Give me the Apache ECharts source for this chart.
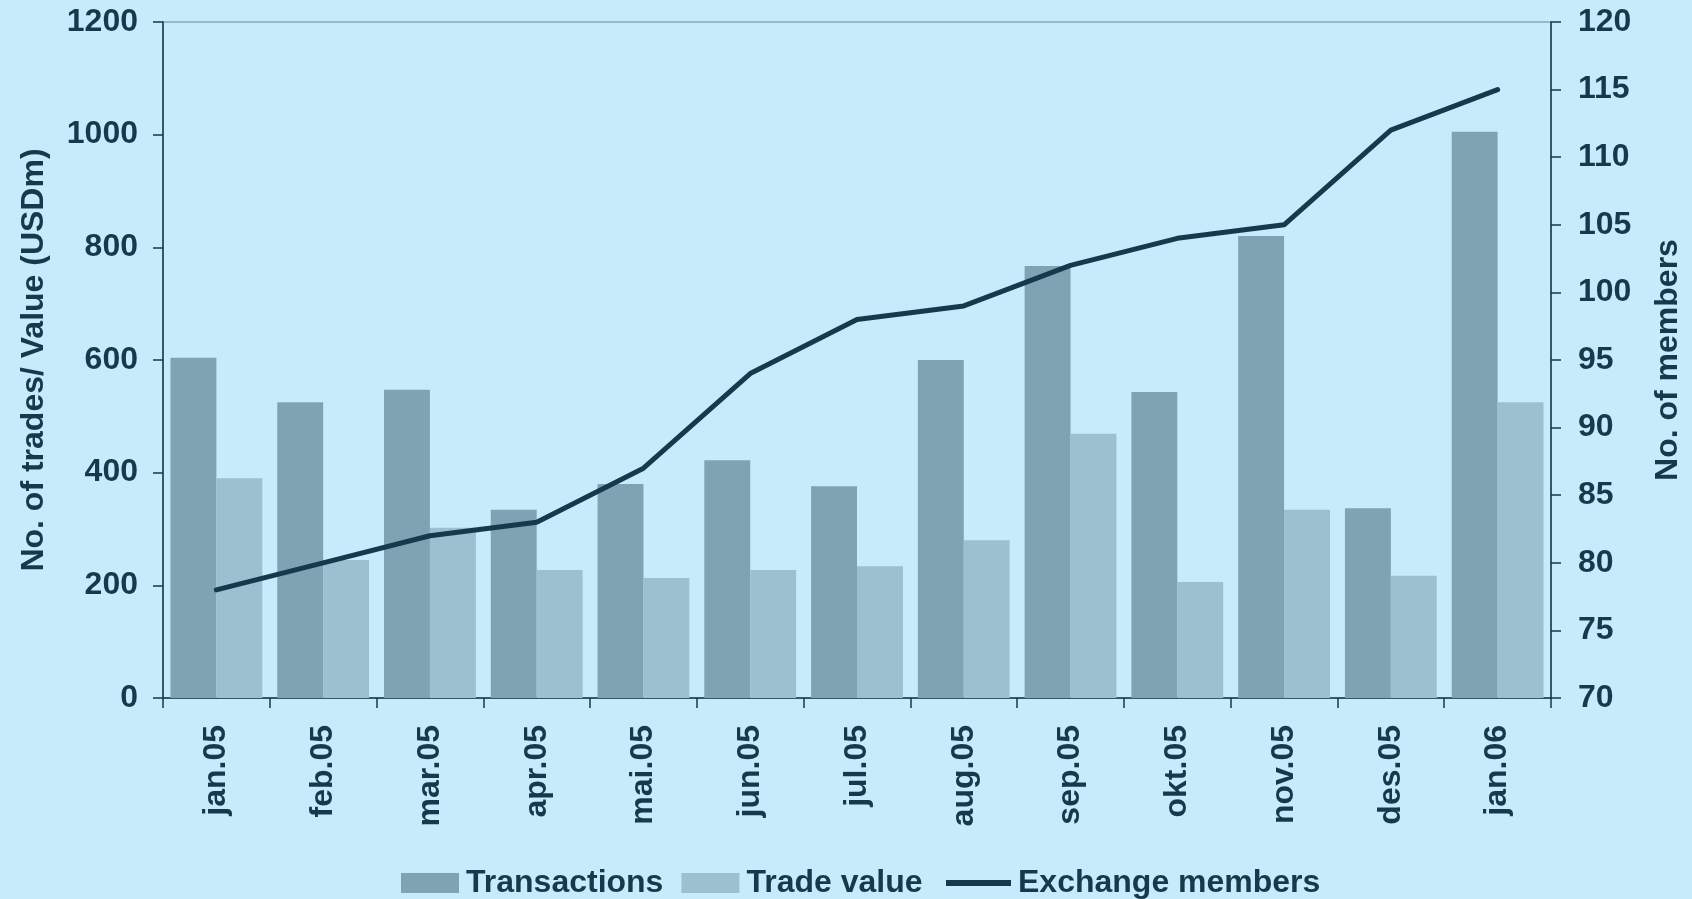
<!DOCTYPE html>
<html>
<head>
<meta charset="utf-8">
<title>Transactions / Trade value / Exchange members</title>
<script src="https://cdn.jsdelivr.net/npm/echarts@6.0.0/dist/echarts.min.js"></script>
<style>
    html, body { margin: 0; padding: 0; background: #c6ecfb; }
    #charts { width: 1692px; height: 899px; }
</style>
</head>
<body>
<div id="charts"></div>
<script>
// 数据
var months = ['jan.05', 'feb.05', 'mar.05', 'apr.05', 'mai.05', 'jun.05', 'jul.05',
    'aug.05', 'sep.05', 'okt.05', 'nov.05', 'des.05', 'jan.06'];
var transactions = [604, 525, 547, 334, 380, 422, 376, 600, 767, 543, 820, 337, 1005];
var tradeValue = [390, 245, 302, 227, 213, 227, 234, 280, 469, 206, 334, 217, 525];
var members = [78, 80, 82, 83, 87, 94, 98, 99, 102, 104, 105, 112, 115];
var leftTicks = [0, 1200, 200];
var rightTicks = [70, 120, 5];

var textColor = '#16394b';
var font = 'Liberation Sans, Arial, sans-serif';

var textStyle = function(size) {
    return {
        color: textColor,
        fontFamily: font,
        fontWeight: 'bold',
        fontSize: size
    };
};

var labelStyle = function(margin) {
    var s = textStyle(32);
    s.margin = margin;
    // 不要千位分隔符
    s.formatter = function(value) {
        return String(value);
    };
    return s;
};

var axisLine = {
    show: true,
    lineStyle: { color: textColor, width: 1.5 }
};

var axisTick = {
    show: true,
    length: 10,
    lineStyle: { color: textColor, width: 1.5 }
};

var legendText = textStyle(32);
legendText.padding = [0, 0, 0, 2];

var option = {
    animation: false,
    backgroundColor: '#c6ecfb',
    textStyle: { fontFamily: font },
    grid: {
        show: true,
        left: 163,
        right: 139,
        top: 22,
        bottom: 201,
        borderColor: '#86a8b7',
        borderWidth: 1.5,
        backgroundColor: 'transparent'
    },
    legend: [
        {
            left: 396,
            top: 862,
            itemWidth: 58,
            itemHeight: 20,
            itemGap: 18,
            textStyle: legendText,
            data: [
                { name: 'Transactions', icon: 'rect' },
                { name: 'Trade value', icon: 'rect' }
            ]
        },
        {
            left: 941,
            top: 862,
            itemWidth: 65,
            itemHeight: 20,
            textStyle: legendText,
            data: [
                { name: 'Exchange members', icon: 'path://M0,0 L100,0 L100,9 L0,9 Z' }
            ]
        }
    ],
    xAxis: {
        type: 'category',
        data: months,
        boundaryGap: true,
        axisLine: axisLine,
        axisTick: axisTick,
        axisLabel: Object.assign(textStyle(32), { margin: 27, rotate: 90, interval: 0 }),
        splitLine: { show: false }
    },
    yAxis: [
        {
            type: 'value',
            position: 'left',
            min: leftTicks[0],
            max: leftTicks[1],
            interval: leftTicks[2],
            name: 'No. of trades/ Value (USDm)',
            nameLocation: 'middle',
            nameGap: 113,
            nameTextStyle: textStyle(32),
            axisLine: axisLine,
            axisTick: axisTick,
            axisLabel: labelStyle(25),
            splitLine: { show: false }
        },
        {
            type: 'value',
            position: 'right',
            min: rightTicks[0],
            max: rightTicks[1],
            interval: rightTicks[2],
            name: 'No. of members',
            nameLocation: 'middle',
            nameGap: 101,
            nameTextStyle: textStyle(32),
            axisLine: axisLine,
            axisTick: axisTick,
            axisLabel: labelStyle(27),
            splitLine: { show: false }
        }
    ],
    series: [
        {
            name: 'Transactions',
            type: 'bar',
            data: transactions,
            barGap: '0%',
            barCategoryGap: '14%',
            itemStyle: { color: '#7ea3b3' }
        },
        {
            name: 'Trade value',
            type: 'bar',
            data: tradeValue,
            itemStyle: { color: '#9bc0d0' }
        },
        {
            name: 'Exchange members',
            type: 'line',
            yAxisIndex: 1,
            data: members,
            symbol: 'none',
            lineStyle: { color: '#143a4c', width: 5, cap: 'round' },
            itemStyle: { color: '#143a4c' }
        }
    ]
};

var myChart = echarts.init(document.getElementById('charts'));
myChart.setOption(option);
</script>
</body>
</html>
